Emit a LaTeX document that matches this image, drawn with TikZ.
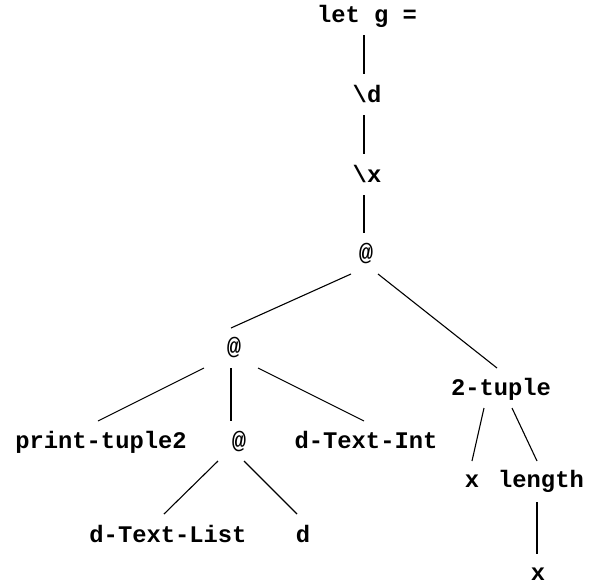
\documentclass[tikz,border=0pt]{standalone}
\usepackage{fontspec}
\setmonofont{Liberation Mono}
\begin{document}
\begin{tikzpicture}[x=1pt,y=-1pt,
  lbl/.style={font=\ttfamily\bfseries\fontsize{23.8}{28}\selectfont, inner sep=0pt, anchor=base},
  edge/.style={line width=1.1pt}]
\useasboundingbox (0,0) rectangle (592,584);
% tree labels, placed by baseline
\node[lbl] (let)  at (367,22)  {let g =};
\node[lbl] (lamd) at (367,102) {\textbackslash d};
\node[lbl] (lamx) at (367,182) {\textbackslash x};
\node[lbl] (ap1)  at (366,260) {@};
\node[lbl] (ap2)  at (234,354) {@};
\node[lbl] (pt)   at (101,448) {print-tuple2};
\node[lbl] (ap3)  at (239,448) {@};
\node[lbl] (dti)  at (366,448) {d-Text-Int};
\node[lbl] (tup)  at (501,395) {2-tuple};
\node[lbl] (xa)   at (472,487) {x};
\node[lbl] (len)  at (541,487) {length};
\node[lbl] (xb)   at (538,580) {x};
\node[lbl] (dtl)  at (168,542) {d-Text-List};
\node[lbl] (dd)   at (303,542) {d};
% connectors, offset from each label's baseline
\draw[edge] ([shift={(-3,13)}]let.base)  -- ([shift={(-3,-28)}]lamd.base);
\draw[edge] ([shift={(-3,13)}]lamd.base) -- ([shift={(-3,-28)}]lamx.base);
\draw[edge] ([shift={(-3,13)}]lamx.base) -- ([shift={(-2,-27)}]ap1.base);
\draw[edge] ([shift={(-15,14)}]ap1.base) -- ([shift={(-3,-26)}]ap2.base);
\draw[edge] ([shift={(12,14)}]ap1.base)  -- ([shift={(-4,-27)}]tup.base);
\draw[edge] ([shift={(-30,14)}]ap2.base) -- ([shift={(-3,-27)}]pt.base);
\draw[edge] ([shift={(-3,14)}]ap2.base)  -- ([shift={(-8,-27)}]ap3.base);
\draw[edge] ([shift={(24,14)}]ap2.base)  -- ([shift={(-2,-27)}]dti.base);
\draw[edge] ([shift={(-17,13)}]tup.base) -- ([shift={(0,-26)}]xa.base);
\draw[edge] ([shift={(11,13)}]tup.base)  -- ([shift={(-4,-26)}]len.base);
\draw[edge] ([shift={(-21,13)}]ap3.base) -- ([shift={(-4,-28)}]dtl.base);
\draw[edge] ([shift={(5,13)}]ap3.base)   -- ([shift={(-6,-28)}]dd.base);
\draw[edge] ([shift={(-4,15)}]len.base)  -- ([shift={(-1,-26)}]xb.base);
\end{tikzpicture}
\end{document}
